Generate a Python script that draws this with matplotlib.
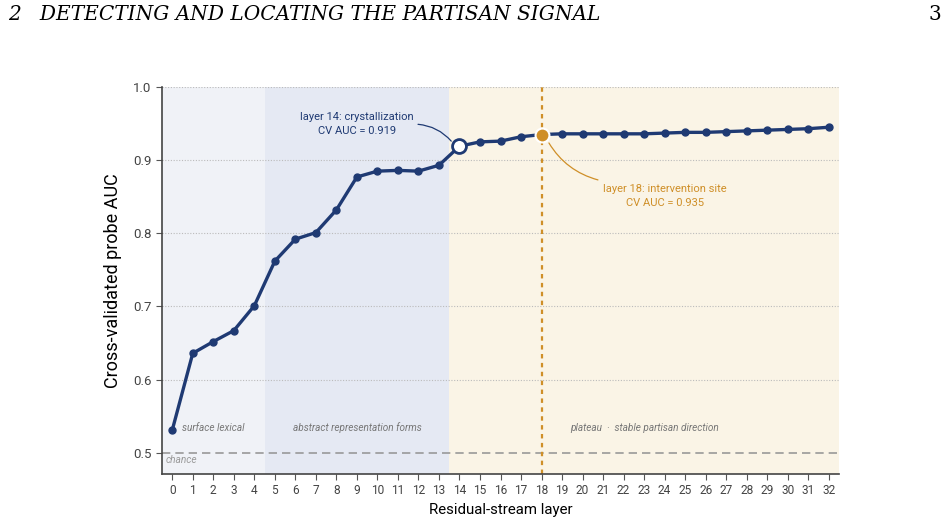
import matplotlib
matplotlib.use("Agg")
import matplotlib.pyplot as plt
import numpy as np

layers = list(range(33))
auc = [0.531, 0.636, 0.652, 0.667, 0.701, 0.762, 0.792, 0.801, 0.832, 0.877,
       0.885, 0.886, 0.885, 0.893, 0.919, 0.925, 0.926, 0.932, 0.935, 0.936,
       0.936, 0.936, 0.936, 0.936, 0.937, 0.938, 0.938, 0.939, 0.940, 0.941,
       0.942, 0.943, 0.945]
y_ticks = [0.5, 0.6, 0.7, 0.8, 0.9, 1.0]
regions = [(-0.5, 4.5, "surface lexical"), (4.5, 13.5, "abstract representation forms"),
           (13.5, 32.5, "plateau  ·  stable partisan direction")]
region_colors = ["#f0f2f7", "#e5e9f3", "#faf4e6"]
crystal_layer = 14
site_layer = 18
chance = 0.5

NAVY = "#1f3a73"
GOLD = "#cf8f28"
cond = ["Roboto", "DejaVu Sans"]

fig = plt.figure(figsize=(9.48, 5.23), dpi=100)
ax = fig.add_axes([162/948, 49/523, (839-162)/948, (474-87)/523])

for (a, b, _), c in zip(regions, region_colors):
    ax.axvspan(a, b, color=c, zorder=0, lw=0)

for yt in y_ticks[1:]:
    ax.axhline(yt, color="#bbbbbb", lw=0.8, ls=(0, (1, 1.5)), zorder=1)
ax.axhline(chance, color="#999999", lw=1.2, ls=(0, (5, 3)), zorder=1)
ax.axvline(site_layer, color=GOLD, lw=1.6, ls=(0, (2, 2)), zorder=2)

ax.plot(layers, auc, color=NAVY, lw=2.4, marker="o", ms=5, zorder=3)
ax.plot([crystal_layer], [auc[crystal_layer]], marker="o", ms=10, mfc="white",
        mec=NAVY, mew=2, zorder=4)
ax.plot([site_layer], [auc[site_layer]], marker="o", ms=10, mfc=GOLD,
        mec="white", mew=1.5, zorder=4)

# annotation texts
ax.text(9.0, 0.9495, f"layer {crystal_layer}: crystallization\nCV AUC = {auc[crystal_layer]:.3f}",
        ha="center", va="center", color=NAVY, fontsize=8.0, family=cond, linespacing=1.4)
ax.annotate("", xy=(crystal_layer - 0.4, auc[crystal_layer] + 0.007), xytext=(11.98, 0.949),
            arrowprops=dict(arrowstyle="-", color=NAVY, lw=0.9,
                            connectionstyle="arc3,rad=-0.2", shrinkA=0, shrinkB=0))
ax.text(24.0, 0.851, f"layer {site_layer}: intervention site\nCV AUC = {auc[site_layer]:.3f}",
        ha="center", va="center", color=GOLD, fontsize=8.0, family=cond, linespacing=1.4)
ax.annotate("", xy=(20.75, 0.873), xytext=(18.36, 0.9235),
            arrowprops=dict(arrowstyle="-", color=GOLD, lw=0.9,
                            connectionstyle="arc3,rad=0.2", shrinkA=0, shrinkB=0))

label_x = [2.0, 9.0, 23.0]
for (a, b, t), lx in zip(regions, label_x):
    ax.text(lx, 0.534, t, ha="center", va="center", style="italic",
            color="#777777", fontsize=7.2, family=cond)
ax.text(-0.3, 0.49, "chance", ha="left", va="center", style="italic",
        color="#999999", fontsize=7.3, family=cond)

ax.set_xlim(-0.5, 32.5)
ax.set_ylim(0.471, 1.0)
ax.set_xticks(layers)
ax.set_xticklabels([str(l) for l in layers], family=cond, fontsize=8.6, color="#444444")
ax.set_yticks(y_ticks)
ax.set_yticklabels([f"{v:.1f}" for v in y_ticks], family=cond, fontsize=9.5, color="#444444")
ax.tick_params(axis="both", length=4, color="#555555", width=0.8)
for s in ["top", "right"]:
    ax.spines[s].set_visible(False)
for s in ["left", "bottom"]:
    ax.spines[s].set_color("#444444")
    ax.spines[s].set_linewidth(1.2)
ax.set_xlabel("Residual-stream layer", family=cond, fontsize=10.8, labelpad=4)
ax.set_ylabel("Cross-validated probe AUC", family=cond, fontsize=13, labelpad=8)

fig.text(8/948, 1 - 15/523, "2   DETECTING AND LOCATING THE PARTISAN SIGNAL",
         family="DejaVu Serif", style="italic", fontsize=14.5, va="center", ha="left")
fig.text(941/948, 1 - 15/523, "3", family="DejaVu Serif", fontsize=14.5,
         va="center", ha="right")

fig.savefig("out.png", dpi=100)
